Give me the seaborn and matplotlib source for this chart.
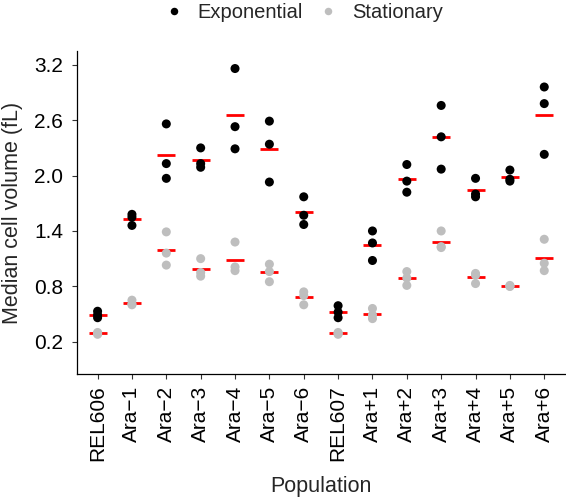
import matplotlib
matplotlib.use("Agg")
import matplotlib.pyplot as plt
import seaborn as sns
import pandas as pd

# Data (three replicates per population)
populations = ["REL606", "Ara\u22121", "Ara\u22122", "Ara\u22123", "Ara\u22124", "Ara\u22125", "Ara\u22126",
               "REL607", "Ara+1", "Ara+2", "Ara+3", "Ara+4", "Ara+5", "Ara+6"]

exponential = [
    [0.53, 0.49, 0.46],
    [1.58, 1.55, 1.46],
    [2.56, 2.13, 1.97],
    [2.30, 2.13, 2.09],
    [3.16, 2.53, 2.29],
    [2.59, 2.34, 1.93],
    [1.77, 1.57, 1.47],
    [0.59, 0.52, 0.46],
    [1.40, 1.27, 1.08],
    [2.12, 1.94, 1.82],
    [2.76, 2.42, 2.07],
    [1.97, 1.80, 1.77],
    [2.06, 1.96, 1.94],
    [2.96, 2.78, 2.23],
]

stationary = [
    [0.30, 0.29, 0.28],
    [0.65, 0.61, 0.60],
    [1.39, 1.16, 1.03],
    [1.10, 0.95, 0.91],
    [1.28, 1.01, 0.97],
    [1.04, 0.96, 0.85],
    [0.74, 0.70, 0.60],
    [0.30, 0.29, 0.28],
    [0.56, 0.49, 0.45],
    [0.96, 0.89, 0.81],
    [1.40, 1.23, 1.22],
    [0.94, 0.92, 0.83],
    [0.81, 0.80, 0.80],
    [1.31, 1.05, 0.97],
]

phases = ["Exponential", "Stationary"]
y_ticks = [0.2, 0.8, 1.4, 2.0, 2.6, 3.2]

rows = []
for phase, values in zip(phases, [exponential, stationary]):
    for pop, reps in zip(populations, values):
        for v in reps:
            rows.append({"Population": pop, "Phase": phase, "Volume": v})
df = pd.DataFrame(rows)

sns.set_style("white")
plt.rcParams["font.family"] = ["Liberation Sans", "DejaVu Sans"]

fig = plt.figure(figsize=(5.66, 5.0), dpi=100)
ax = fig.add_axes([0.136, 0.252, 0.862, 0.646])

sns.stripplot(data=df, x="Population", y="Volume", hue="Phase", order=populations,
              hue_order=phases, palette={"Exponential": "black", "Stationary": "#bebebe"},
              jitter=False, dodge=False, size=6.5, linewidth=0, ax=ax)

# red bars = mean of each group
sns.pointplot(data=df, x="Population", y="Volume", hue="Phase", order=populations,
              hue_order=phases, palette={"Exponential": "red", "Stationary": "red"},
              estimator="mean", errorbar=None, linestyle="none", marker="_",
              markersize=13, markeredgewidth=2.0, dodge=False, legend=False, ax=ax)

ax.set_xlim(-0.6, 13.6)
ax.set_ylim(-0.15, 3.35)
ax.set_yticks(y_ticks)
ax.set_yticklabels([f"{t:.1f}" for t in y_ticks])

for side in ["top", "right"]:
    ax.spines[side].set_visible(False)
for side in ["left", "bottom"]:
    ax.spines[side].set_color("black")
    ax.spines[side].set_linewidth(0.9)

ax.tick_params(axis="both", which="major", direction="out", length=3.3, width=0.8,
               color="#333333", labelsize=15, labelcolor="black", bottom=True, left=True)
ax.tick_params(axis="y", pad=6.5)
ax.tick_params(axis="x", pad=5)
plt.setp(ax.get_xticklabels(), rotation=90, ha="center", va="top")

ax.set_xlabel("Population", fontsize=15.5)
ax.set_ylabel("Median cell volume (fL)", fontsize=15.5)
ax.xaxis.set_label_coords(0.5, -0.315)
ax.yaxis.set_label_coords(-0.11, 0.5)

sns.move_legend(ax, "center", bbox_to_anchor=(0.464, 1.118), ncol=2, title=None,
                frameon=False, fontsize=14.5, handlelength=1.0, handletextpad=0.7,
                columnspacing=0.75)
for h in ax.get_legend().legend_handles:
    try:
        h.set_markersize(5.4)
    except AttributeError:
        h.set_sizes([29])

fig.savefig("out.png", dpi=100)
